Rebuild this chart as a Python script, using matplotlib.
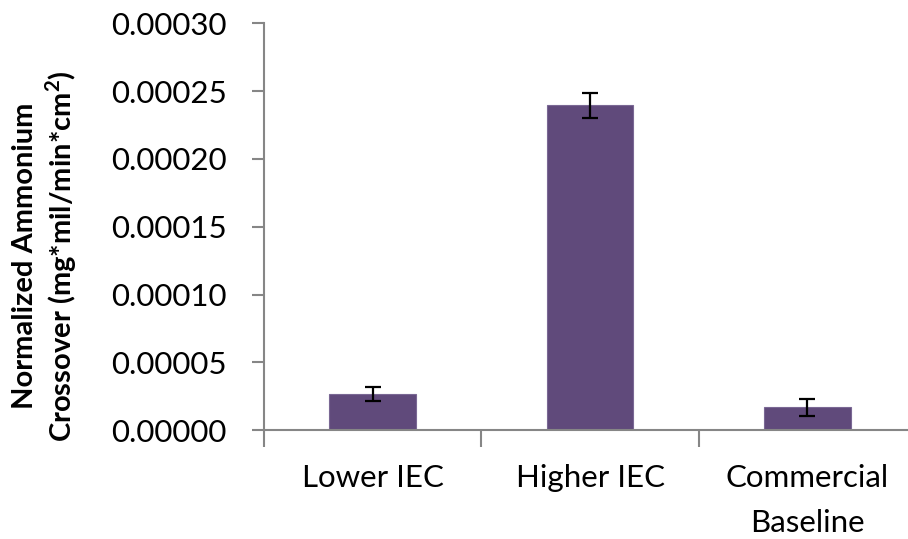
import matplotlib
matplotlib.use("Agg")
import matplotlib.pyplot as plt

categories = ["Lower IEC", "Higher IEC", "Commercial\nBaseline"]
crossover = [0.0000268, 0.0002395, 0.0000170]
crossover_err = [0.0000051, 0.0000090, 0.0000063]
y_ticks = [0.0, 0.00005, 0.00010, 0.00015, 0.00020, 0.00025, 0.00030]

plt.rcParams["font.family"] = ["Lato", "DejaVu Sans"]

fig = plt.figure(figsize=(9.08, 5.39), dpi=100)
ax = fig.add_axes([264 / 908, 1 - 430.3 / 539, 652 / 908, (430.3 - 23.3) / 539])

x = list(range(len(categories)))
ax.bar(x, crossover, width=0.40, color="#604A7B", edgecolor="#7A6894",
       linewidth=0.8, zorder=2)
ax.errorbar(x, crossover, yerr=crossover_err, fmt="none", ecolor="black",
            elinewidth=1.6, capsize=6, capthick=1.6, zorder=3)

ax.set_xlim(-0.5, len(categories) - 0.5)
ax.set_ylim(0, 0.0003)
ax.set_yticks(y_ticks)
ax.set_yticklabels([f"{v:.5f}" for v in y_ticks])

ax.set_xticks(x)
ax.set_xticklabels(categories, linespacing=1.75)
ax.set_xticks([i - 0.5 for i in range(len(categories) + 1)], minor=True)

gray = "#868686"
for side in ("top", "right"):
    ax.spines[side].set_visible(False)
for side in ("left", "bottom"):
    ax.spines[side].set_color(gray)
    ax.spines[side].set_linewidth(1.5)

ax.tick_params(axis="y", direction="out", length=9, width=1.5, color=gray,
               labelsize=22.5, pad=18)
ax.tick_params(axis="x", which="major", length=0, labelsize=22.5, pad=24)
ax.tick_params(axis="x", which="minor", direction="out", length=12, width=1.5,
               color=gray)
for lbl in ax.get_xticklabels():
    lbl.set_verticalalignment("top")

ax.set_ylabel("Normalized Ammonium\nCrossover (mg*mil/min*cm$^{\\mathregular{2}}$)",
              fontsize=21, fontweight="bold", linespacing=1.2)
ax.yaxis.set_label_coords(-0.283, 0.428)

fig.savefig("out.png", dpi=100)
